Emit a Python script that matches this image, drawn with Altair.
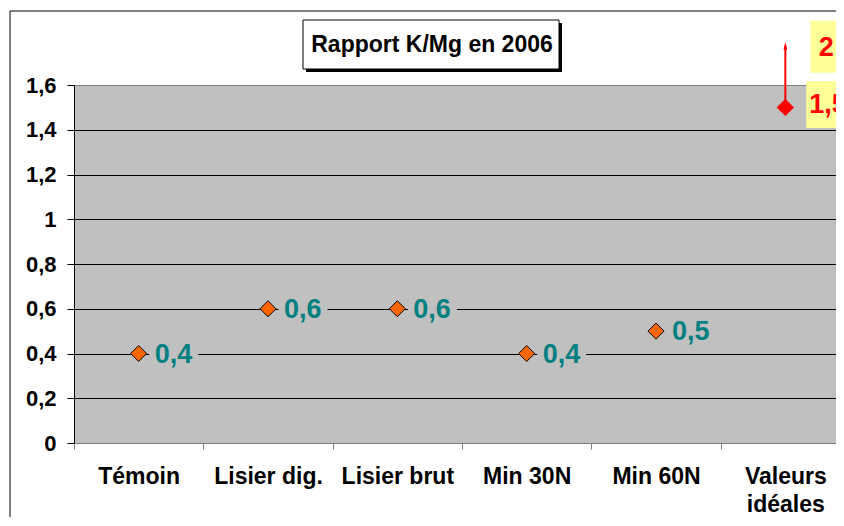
import altair as alt
import pandas as pd

# ---- data ----
categories = ["Témoin", "Lisier dig.", "Lisier brut", "Min 30N", "Min 60N", "Valeurs idéales"]
ratio_values = [0.4, 0.6, 0.6, 0.4, 0.5]
ideal_category = "Valeurs idéales"
ideal_low = 1.5
ideal_arrow_top = 1.775
ideal_low_label = "1,5"
ideal_high_label = "2"
y_ticks = [0, 0.2, 0.4, 0.6, 0.8, 1.0, 1.2, 1.4, 1.6]
title_text = "Rapport K/Mg en 2006"

FONT = "Liberation Sans"

df = pd.DataFrame({
    "cat": categories[:5],
    "v": ratio_values,
    "lab": [f"{v:.1f}".replace(".", ",") for v in ratio_values],
})
ideal = pd.DataFrame({
    "cat": [ideal_category],
    "low": [ideal_low],
    "top": [ideal_arrow_top],
    "lab_low": [ideal_low_label],
    "lab_top": [ideal_high_label],
})
one = pd.DataFrame({"k": [0]})

x_axis = alt.Axis(
    title=None, labelAngle=0, labelFont=FONT, labelFontSize=23, labelFontWeight="bold",
    labelColor="black", labelPadding=16, labelBaseline="top", labelLineHeight=28,
    labelOverlap=False, labelFlush=False, labelLimit=0,
    labelExpr="datum.value == 'Valeurs idéales' ? ['Valeurs', 'idéales'] : datum.label",
    tickBand="extent", tickSize=6, tickColor="#808080", domainColor="#808080", grid=False,
)
X = alt.X("cat:N", sort=categories,
          scale=alt.Scale(domain=categories, range=[0, 776], paddingInner=0, paddingOuter=0),
          axis=x_axis)

y_axis = alt.Axis(
    title=None, values=y_ticks, labelFont=FONT, labelFontSize=22, labelFontWeight="bold",
    labelColor="black", labelPadding=11, tickSize=7, tickColor="black", domainColor="black",
    labelExpr="replace(format(datum.value, '.1~f'), '.', ',')",
    grid=True,
    gridColor={"condition": {"test": "datum.value >= 1.59 || datum.value <= 0.01", "value": "#808080"},
               "value": "black"},
    gridOpacity=1, gridWidth=1,
)
ysc = alt.Scale(domain=[0, 1.6], nice=False, zero=True)


def Y(field):
    return alt.Y(f"{field}:Q", scale=ysc, axis=y_axis)


# ---- decoration: chart frame and title box ----
frame = alt.Chart(one).mark_rect(fillOpacity=0, stroke="black", strokeWidth=1).encode(
    x=alt.value(-64), x2=alt.value(900), y=alt.value(-74), y2=alt.value(700))
shadow = alt.Chart(one).mark_rect(fill="black").encode(
    x=alt.value(232), x2=alt.value(488), y=alt.value(-62), y2=alt.value(-13))
tbox = alt.Chart(one).mark_rect(fill="white", stroke="black", strokeWidth=1).encode(
    x=alt.value(229), x2=alt.value(485), y=alt.value(-65), y2=alt.value(-16))
ttext = alt.Chart(one).mark_text(font=FONT, fontSize=23, fontWeight="bold", color="black",
                                 align="center", baseline="middle").encode(
    x=alt.value(358), y=alt.value(-40), text=alt.value(title_text))

# ---- series ----
label_box = alt.Chart(df).mark_point(
    shape="M-1,-0.58H1V0.58H-1Z", filled=True, fill="#C0C0C0", opacity=1,
    size=2401, xOffset=35, strokeWidth=0).encode(x=X, y=Y("v"))
points = alt.Chart(df).mark_point(
    shape="diamond", filled=True, fill="#FF6600", stroke="black", strokeWidth=1,
    opacity=1, size=256).encode(x=X, y=Y("v"))
labels = alt.Chart(df).mark_text(
    font=FONT, fontSize=27, fontWeight="bold", color="#008080", align="left",
    baseline="middle", dx=16, dy=1).encode(x=X, y=Y("v"), text="lab:N")

# ---- ideal values ----
arrow = alt.Chart(ideal).mark_rule(color="#FF0000", strokeWidth=2).encode(
    x=X, y=Y("low"), y2="top:Q")
arrow_head = alt.Chart(ideal).mark_point(
    shape="M0,-1L0.45,1L-0.45,1Z", filled=True, fill="#FF0000", opacity=1, size=64,
    strokeWidth=0).encode(x=X, y=Y("top"))
ideal_pt = alt.Chart(ideal).mark_point(
    shape="diamond", filled=True, fill="#FF0000", opacity=1, size=300, strokeWidth=0).encode(
    x=X, y=Y("low"))
box_top = alt.Chart(ideal).mark_point(
    shape="M-0.615,-1H0.615V1H-0.615Z", filled=True, fill="#FFFF99", opacity=1,
    size=2704, xOffset=41, yOffset=1, strokeWidth=0).encode(x=X, y=Y("top"))
box_low = alt.Chart(ideal).mark_point(
    shape="M-0.94,-1H0.94V1H-0.94Z", filled=True, fill="#FFFF99", opacity=1,
    size=2209, xOffset=43, yOffset=-3, strokeWidth=0).encode(x=X, y=Y("low"))
lab_top = alt.Chart(ideal).mark_text(
    font=FONT, fontSize=27, fontWeight="bold", color="#FF0000", align="center",
    baseline="middle", dx=41, dy=2).encode(x=X, y=Y("top"), text="lab_top:N")
lab_low = alt.Chart(ideal).mark_text(
    font=FONT, fontSize=27, fontWeight="bold", color="#FF0000", align="left",
    baseline="middle", dx=24, dy=-2).encode(x=X, y=Y("low"), text="lab_low:N")

chart = alt.layer(
    frame, shadow, tbox, ttext, label_box, points, labels,
    arrow, arrow_head, ideal_pt, box_top, box_low, lab_top, lab_low,
).properties(
    width=762, height=358,
    autosize=alt.AutoSizeParams(type="none"),
    padding={"left": 66, "top": 77, "right": 0, "bottom": 74},
    background="white",
).configure_view(fill="#C0C0C0", stroke="#808080", strokeWidth=1)

chart.save("out.html", embed_options={"renderer": "svg", "actions": False})
